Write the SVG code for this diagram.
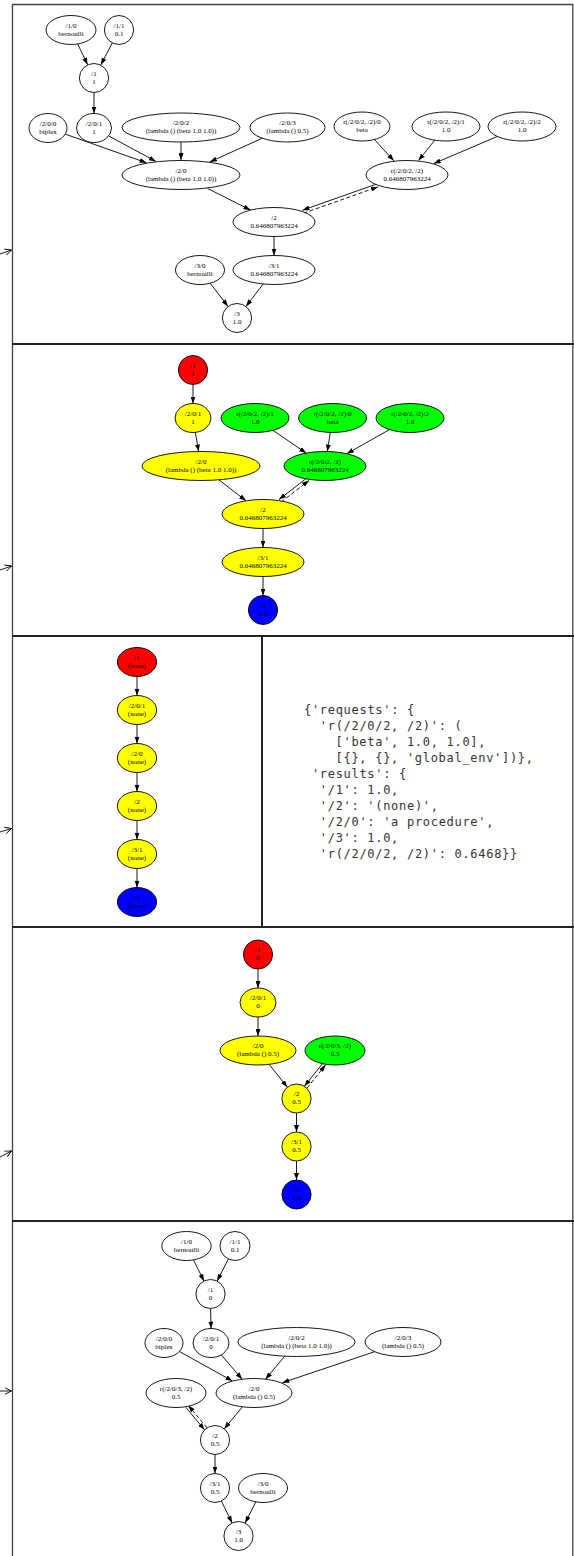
<svg xmlns="http://www.w3.org/2000/svg" width="574" height="1556" viewBox="0 0 574 1556">
<style>
.n ellipse{stroke:#000;stroke-width:0.9}
.w{fill:#fff}.r{fill:#f00}.y{fill:#ff0}.g{fill:#0f0}.b{fill:#00f}
.n text{font-family:"Liberation Serif",serif;font-size:7px;text-anchor:middle;fill:#000}
.e line{stroke:#000;stroke-width:0.9;fill:none;marker-end:url(#ah)}
.e line.d{stroke-dasharray:4 2.5}
.fr{stroke:#444;stroke-width:1.3;fill:none}
.sep{stroke:#222;stroke-width:2;fill:none}
.la line{stroke:#000;stroke-width:0.9;marker-end:url(#oa)}
.code{font-family:"DejaVu Sans Mono","Liberation Mono",monospace;font-size:12px;letter-spacing:0.7px;fill:#333}
</style>
<defs>
<marker id="ah" viewBox="0 0 7 5" refX="7" refY="2.5" markerWidth="7" markerHeight="5" markerUnits="userSpaceOnUse" orient="auto"><path d="M0,0 L7,2.5 L0,5 z" fill="#000"/></marker>
<marker id="oa" viewBox="0 0 8 8" refX="7.5" refY="4" markerWidth="8" markerHeight="8" markerUnits="userSpaceOnUse" orient="auto"><path d="M1,0.8 L7.5,4 L1,7.2" fill="none" stroke="#000" stroke-width="0.9"/></marker>
</defs>
<rect x="0" y="0" width="574" height="1556" fill="#fff"/>

<g id="frame">
<line class="fr" x1="12" y1="4.5" x2="573" y2="4.5"/>
<line class="fr" x1="12.5" y1="4" x2="12.5" y2="1556"/>
<line class="fr" x1="572.8" y1="4" x2="572.8" y2="1556"/>
<line class="sep" x1="12" y1="344" x2="574" y2="344"/>
<line class="sep" x1="12" y1="636" x2="574" y2="636"/>
<line class="sep" x1="12" y1="927" x2="574" y2="927"/>
<line class="sep" x1="12" y1="1221" x2="574" y2="1221"/>
<line class="sep" x1="262" y1="636" x2="262" y2="927"/>
</g>

<g id="left-arrows" class="la">
<line x1="0" y1="254" x2="11.5" y2="250"/>
<line x1="0" y1="570" x2="11.5" y2="566"/>
<line x1="0" y1="832" x2="11.5" y2="828.5"/>
<line x1="0" y1="1157" x2="11.5" y2="1151"/>
<line x1="0" y1="1391" x2="11.5" y2="1391"/>
</g>

<g id="connectors" class="e">
<!-- panel 1 -->
<line x1="77.7" y1="44" x2="87.6" y2="64.7"/>
<line x1="112.3" y1="42.9" x2="100.8" y2="64.9"/>
<line x1="94" y1="92.5" x2="94" y2="113.5"/>
<line x1="65.2" y1="134.1" x2="146.5" y2="162.8"/>
<line x1="108.4" y1="135.8" x2="155.9" y2="161.4"/>
<line x1="181" y1="142" x2="181" y2="160"/>
<line x1="262.8" y1="138" x2="209.9" y2="161.9"/>
<line x1="207.5" y1="188.4" x2="250.5" y2="210.1"/>
<line x1="374" y1="139.1" x2="393.9" y2="160.8"/>
<line x1="435.1" y1="139.7" x2="418.5" y2="160.6"/>
<line x1="498" y1="136.2" x2="433.7" y2="163.6"/>
<line x1="377" y1="183.9" x2="302.5" y2="210.2"/>
<line class="d" x1="303.5" y1="213.2" x2="378" y2="186.9"/>
<line x1="274" y1="236.5" x2="274" y2="255.5"/>
<line x1="210.2" y1="283.2" x2="228" y2="306.4"/>
<line x1="263.2" y1="284" x2="246" y2="306.4"/>
<!-- panel 2 -->
<line x1="193" y1="384.5" x2="193" y2="403.5"/>
<line x1="195.3" y1="432" x2="198.6" y2="451.5"/>
<line x1="272.5" y1="430" x2="306.2" y2="453.1"/>
<line x1="330.4" y1="432" x2="327.3" y2="451.5"/>
<line x1="390" y1="429.3" x2="346.8" y2="453.7"/>
<line x1="218.9" y1="479.8" x2="246" y2="500.8"/>
<line x1="307" y1="477.9" x2="279" y2="499.5"/>
<line class="d" x1="281" y1="502.1" x2="309" y2="480.5"/>
<line x1="263" y1="528.5" x2="263" y2="547.5"/>
<line x1="263" y1="576.5" x2="263" y2="595.5"/>
<!-- panel 3 -->
<line x1="137" y1="676.5" x2="137" y2="695.5"/>
<line x1="137" y1="724.5" x2="137" y2="743.5"/>
<line x1="137" y1="772.5" x2="137" y2="791.5"/>
<line x1="137" y1="820.5" x2="137" y2="839.5"/>
<line x1="137" y1="868.5" x2="137" y2="887.5"/>
<!-- panel 4 -->
<line x1="258" y1="969" x2="258" y2="988"/>
<line x1="258" y1="1017" x2="258" y2="1036"/>
<line x1="269.1" y1="1064.4" x2="287.4" y2="1087.2"/>
<line x1="323" y1="1063" x2="304.4" y2="1086.2"/>
<line class="d" x1="306.9" y1="1088.2" x2="325.5" y2="1065"/>
<line x1="296.5" y1="1113" x2="296.5" y2="1132"/>
<line x1="296.5" y1="1161" x2="296.5" y2="1180"/>
<!-- panel 5 -->
<line x1="193.2" y1="1259.5" x2="204" y2="1281"/>
<line x1="228.6" y1="1258.6" x2="217.1" y2="1281.1"/>
<line x1="210.6" y1="1308.5" x2="211" y2="1328.5"/>
<line x1="179.4" y1="1351.5" x2="232.5" y2="1381"/>
<line x1="221.3" y1="1354.9" x2="242.1" y2="1379.2"/>
<line x1="284.7" y1="1356.2" x2="265.5" y2="1379.2"/>
<line x1="374.7" y1="1351.7" x2="282.3" y2="1382.7"/>
<line x1="242.5" y1="1406.8" x2="224.3" y2="1428.8"/>
<line x1="186" y1="1407.5" x2="204.5" y2="1429.8"/>
<line class="d" x1="207" y1="1427.8" x2="188.4" y2="1405.5"/>
<line x1="215" y1="1454.5" x2="215" y2="1473.5"/>
<line x1="221.4" y1="1501" x2="232.1" y2="1523"/>
<line x1="256.1" y1="1501.4" x2="245.1" y2="1523.1"/>
</g>

<!-- ===== Panel 1 nodes ===== -->
<g id="p1-n1_0" class="n"><ellipse class="w" cx="71" cy="30" rx="25" ry="14.5"/><text x="71" y="27.5">/1/0</text><text x="71" y="35.5">bernoulli</text></g>
<g id="p1-n1_1" class="n"><ellipse class="w" cx="119" cy="30" rx="14.6" ry="14.5"/><text x="119" y="27.5">/1/1</text><text x="119" y="35.5">0.1</text></g>
<g id="p1-n1" class="n"><ellipse class="w" cx="94" cy="78" rx="14.6" ry="14.5"/><text x="94" y="75.5">/1</text><text x="94" y="83.5">1</text></g>
<g id="p1-n2_0_0" class="n"><ellipse class="w" cx="48" cy="128" rx="19" ry="14.5"/><text x="48" y="125.5">/2/0/0</text><text x="48" y="133.5">biplex</text></g>
<g id="p1-n2_0_1" class="n"><ellipse class="w" cx="94" cy="128" rx="17.5" ry="14.5"/><text x="94" y="125.5">/2/0/1</text><text x="94" y="133.5">1</text></g>
<g id="p1-n2_0_2" class="n"><ellipse class="w" cx="181" cy="127.5" rx="59" ry="14.5"/><text x="181" y="125">/2/0/2</text><text x="181" y="133">(lambda () (beta 1.0 1.0))</text></g>
<g id="p1-n2_0_3" class="n"><ellipse class="w" cx="287.5" cy="127.5" rx="37.5" ry="14.5"/><text x="287.5" y="125">/2/0/3</text><text x="287.5" y="133">(lambda () 0.5)</text></g>
<g id="p1-r0" class="n"><ellipse class="w" cx="362" cy="126.5" rx="28" ry="14.5"/><text x="362" y="124">r(/2/0/2, /2)/0</text><text x="362" y="132">beta</text></g>
<g id="p1-r1" class="n"><ellipse class="w" cx="446" cy="126.5" rx="34" ry="14.5"/><text x="446" y="124">r(/2/0/2, /2)/1</text><text x="446" y="132">1.0</text></g>
<g id="p1-r2" class="n"><ellipse class="w" cx="522" cy="126.5" rx="34" ry="14.5"/><text x="522" y="124">r(/2/0/2, /2)/2</text><text x="522" y="132">1.0</text></g>
<g id="p1-n2_0" class="n"><ellipse class="w" cx="181" cy="175" rx="59" ry="14.5"/><text x="181" y="172.5">/2/0</text><text x="181" y="180.5">(lambda () (beta 1.0 1.0))</text></g>
<g id="p1-r" class="n"><ellipse class="w" cx="407" cy="175" rx="41" ry="14.5"/><text x="407" y="172.5">r(/2/0/2, /2)</text><text x="407" y="180.5">0.646807963224</text></g>
<g id="p1-n2" class="n"><ellipse class="w" cx="274" cy="222" rx="41" ry="14.5"/><text x="274" y="219.5">/2</text><text x="274" y="227.5">0.646807963224</text></g>
<g id="p1-n3_0" class="n"><ellipse class="w" cx="200" cy="270" rx="24.5" ry="14.5"/><text x="200" y="267.5">/3/0</text><text x="200" y="275.5">bernoulli</text></g>
<g id="p1-n3_1" class="n"><ellipse class="w" cx="274" cy="270" rx="41" ry="14.5"/><text x="274" y="267.5">/3/1</text><text x="274" y="275.5">0.646807963224</text></g>
<g id="p1-n3" class="n"><ellipse class="w" cx="237" cy="318" rx="14.6" ry="14.5"/><text x="237" y="315.5">/3</text><text x="237" y="323.5">1.0</text></g>

<!-- ===== Panel 2 nodes ===== -->
<g id="p2-n1" class="n"><ellipse class="r" cx="193" cy="370" rx="14.6" ry="14.5"/><text x="193" y="367.5">/1</text><text x="193" y="375.5">1</text></g>
<g id="p2-n2_0_1" class="n"><ellipse class="y" cx="193" cy="418" rx="18" ry="14.5"/><text x="193" y="415.5">/2/0/1</text><text x="193" y="423.5">1</text></g>
<g id="p2-r1" class="n"><ellipse class="g" cx="255" cy="418" rx="34" ry="14.5"/><text x="255" y="415.5">r(/2/0/2, /2)/1</text><text x="255" y="423.5">1.0</text></g>
<g id="p2-r0" class="n"><ellipse class="g" cx="332.6" cy="418" rx="34" ry="14.5"/><text x="332.6" y="415.5">r(/2/0/2, /2)/0</text><text x="332.6" y="423.5">beta</text></g>
<g id="p2-r2" class="n"><ellipse class="g" cx="410" cy="418" rx="34" ry="14.5"/><text x="410" y="415.5">r(/2/0/2, /2)/2</text><text x="410" y="423.5">1.0</text></g>
<g id="p2-n2_0" class="n"><ellipse class="y" cx="201" cy="466" rx="59" ry="14.5"/><text x="201" y="463.5">/2/0</text><text x="201" y="471.5">(lambda () (beta 1.0 1.0))</text></g>
<g id="p2-r" class="n"><ellipse class="g" cx="325" cy="466" rx="41" ry="14.5"/><text x="325" y="463.5">r(/2/0/2, /2)</text><text x="325" y="471.5">0.646807963224</text></g>
<g id="p2-n2" class="n"><ellipse class="y" cx="263" cy="514" rx="41" ry="14.5"/><text x="263" y="511.5">/2</text><text x="263" y="519.5">0.646807963224</text></g>
<g id="p2-n3_1" class="n"><ellipse class="y" cx="263" cy="562" rx="41" ry="14.5"/><text x="263" y="559.5">/3/1</text><text x="263" y="567.5">0.646807963224</text></g>
<g id="p2-n3" class="n"><ellipse class="b" cx="263" cy="610" rx="14.6" ry="14.5"/><text x="263" y="607.5">/3</text><text x="263" y="615.5">1.0</text></g>

<!-- ===== Panel 3 nodes ===== -->
<g id="p3-n1" class="n"><ellipse class="r" cx="137" cy="662" rx="19.6" ry="14.5"/><text x="137" y="659.5">/1</text><text x="137" y="667.5">(none)</text></g>
<g id="p3-n2_0_1" class="n"><ellipse class="y" cx="137" cy="710" rx="19.6" ry="14.5"/><text x="137" y="707.5">/2/0/1</text><text x="137" y="715.5">(none)</text></g>
<g id="p3-n2_0" class="n"><ellipse class="y" cx="137" cy="758" rx="19.6" ry="14.5"/><text x="137" y="755.5">/2/0</text><text x="137" y="763.5">(none)</text></g>
<g id="p3-n2" class="n"><ellipse class="y" cx="137" cy="806" rx="19.6" ry="14.5"/><text x="137" y="803.5">/2</text><text x="137" y="811.5">(none)</text></g>
<g id="p3-n3_1" class="n"><ellipse class="y" cx="137" cy="854" rx="19.6" ry="14.5"/><text x="137" y="851.5">/3/1</text><text x="137" y="859.5">(none)</text></g>
<g id="p3-n3" class="n"><ellipse class="b" cx="137" cy="902" rx="19.6" ry="14.5"/><text x="137" y="899.5">/3</text><text x="137" y="907.5">(none)</text></g>

<g id="p3-state" class="code">
<text x="304" y="714">{'requests': {</text>
<text x="319.8" y="730">'r(/2/0/2, /2)': (</text>
<text x="335.6" y="746">['beta', 1.0, 1.0],</text>
<text x="335.6" y="762">[{}, {}, 'global_env'])},</text>
<text x="311.9" y="778">'results': {</text>
<text x="319.8" y="794">'/1': 1.0,</text>
<text x="319.8" y="810">'/2': '(none)',</text>
<text x="319.8" y="826">'/2/0': 'a procedure',</text>
<text x="319.8" y="842">'/3': 1.0,</text>
<text x="319.8" y="858">'r(/2/0/2, /2)': 0.6468}}</text>
</g>

<!-- ===== Panel 4 nodes ===== -->
<g id="p4-n1" class="n"><ellipse class="r" cx="258" cy="954.5" rx="14.6" ry="14.5"/><text x="258" y="952">/1</text><text x="258" y="960">0</text></g>
<g id="p4-n2_0_1" class="n"><ellipse class="y" cx="258" cy="1002.5" rx="18" ry="14.5"/><text x="258" y="1000">/2/0/1</text><text x="258" y="1008">0</text></g>
<g id="p4-n2_0" class="n"><ellipse class="y" cx="258" cy="1050.5" rx="38" ry="14.5"/><text x="258" y="1048">/2/0</text><text x="258" y="1056">(lambda () 0.5)</text></g>
<g id="p4-r" class="n"><ellipse class="g" cx="335" cy="1050.5" rx="30" ry="14.5"/><text x="335" y="1048">r(/2/0/3, /2)</text><text x="335" y="1056">0.5</text></g>
<g id="p4-n2" class="n"><ellipse class="y" cx="296.5" cy="1098.5" rx="14.6" ry="14.5"/><text x="296.5" y="1096">/2</text><text x="296.5" y="1104">0.5</text></g>
<g id="p4-n3_1" class="n"><ellipse class="y" cx="296.5" cy="1146.5" rx="14.6" ry="14.5"/><text x="296.5" y="1144">/3/1</text><text x="296.5" y="1152">0.5</text></g>
<g id="p4-n3" class="n"><ellipse class="b" cx="296.5" cy="1194.5" rx="14.6" ry="14.5"/><text x="296.5" y="1192">/3</text><text x="296.5" y="1200">1.0</text></g>

<!-- ===== Panel 5 nodes ===== -->
<g id="p5-n1_0" class="n"><ellipse class="w" cx="186.5" cy="1246" rx="24.7" ry="14.5"/><text x="186.5" y="1243.5">/1/0</text><text x="186.5" y="1251.5">bernoulli</text></g>
<g id="p5-n1_1" class="n"><ellipse class="w" cx="235" cy="1246" rx="15" ry="14.5"/><text x="235" y="1243.5">/1/1</text><text x="235" y="1251.5">0.1</text></g>
<g id="p5-n1" class="n"><ellipse class="w" cx="210.5" cy="1294" rx="14.6" ry="14.5"/><text x="210.5" y="1291.5">/1</text><text x="210.5" y="1299.5">0</text></g>
<g id="p5-n2_0_0" class="n"><ellipse class="w" cx="164" cy="1343" rx="19" ry="14.5"/><text x="164" y="1340.5">/2/0/0</text><text x="164" y="1348.5">biplex</text></g>
<g id="p5-n2_0_1" class="n"><ellipse class="w" cx="211" cy="1343" rx="18" ry="14.5"/><text x="211" y="1340.5">/2/0/1</text><text x="211" y="1348.5">0</text></g>
<g id="p5-n2_0_2" class="n"><ellipse class="w" cx="296.5" cy="1342" rx="58.6" ry="14.5"/><text x="296.5" y="1339.5">/2/0/2</text><text x="296.5" y="1347.5">(lambda () (beta 1.0 1.0))</text></g>
<g id="p5-n2_0_3" class="n"><ellipse class="w" cx="403" cy="1342" rx="38" ry="14.5"/><text x="403" y="1339.5">/2/0/3</text><text x="403" y="1347.5">(lambda () 0.5)</text></g>
<g id="p5-r" class="n"><ellipse class="w" cx="176" cy="1393" rx="30" ry="14.5"/><text x="176" y="1390.5">r(/2/0/3, /2)</text><text x="176" y="1398.5">0.5</text></g>
<g id="p5-n2_0" class="n"><ellipse class="w" cx="254" cy="1393" rx="38" ry="14.5"/><text x="254" y="1390.5">/2/0</text><text x="254" y="1398.5">(lambda () 0.5)</text></g>
<g id="p5-n2" class="n"><ellipse class="w" cx="215" cy="1440" rx="14.6" ry="14.5"/><text x="215" y="1437.5">/2</text><text x="215" y="1445.5">0.5</text></g>
<g id="p5-n3_1" class="n"><ellipse class="w" cx="215" cy="1488" rx="14.6" ry="14.5"/><text x="215" y="1485.5">/3/1</text><text x="215" y="1493.5">0.5</text></g>
<g id="p5-n3_0" class="n"><ellipse class="w" cx="263" cy="1488" rx="24.5" ry="14.5"/><text x="263" y="1485.5">/3/0</text><text x="263" y="1493.5">bernoulli</text></g>
<g id="p5-n3" class="n"><ellipse class="w" cx="238.5" cy="1536" rx="14.6" ry="14.5"/><text x="238.5" y="1533.5">/3</text><text x="238.5" y="1541.5">1.0</text></g>
</svg>
